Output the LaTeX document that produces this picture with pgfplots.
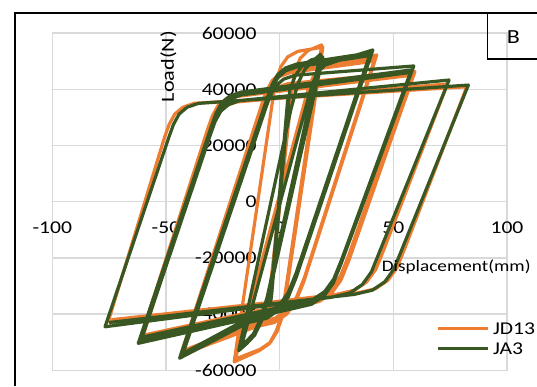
\documentclass[border=0pt]{standalone}
\usepackage{fontspec}
\setmainfont{Carlito}[FakeStretch=1.2]
\usepackage{pgfplots}
\pgfplotsset{compat=1.18}
\definecolor{jd}{RGB}{237,125,49}
\definecolor{ja}{RGB}{56,87,35}
\definecolor{gridgray}{RGB}{217,217,217}
\begin{document}
\begin{tikzpicture}[x=1pt,y=1pt]
\useasboundingbox (0,0) rectangle (537,386);
\fill[white] (0,0) rectangle (537,386);
\begin{axis}[
  at={(52.3pt,15.7pt)}, anchor=south west,
  scale only axis, width=454.7pt, height=337.2pt,
  xmin=-100, xmax=100, ymin=-60000, ymax=60000,
  xtick={-100,-50,0,50,100},
  ytick={-60000,-40000,-20000,0,20000,40000,60000},
  scaled y ticks=false,
  /pgf/number format/1000 sep={},
  /pgf/number format/assume math mode=true,
  grid=major,
  grid style={gridgray, line width=1.3pt},
  axis line style={gridgray, line width=1.3pt},
  major tick length=0pt,
  tick style={draw=none},
  xticklabel style={font=\fontsize{18}{20}\selectfont, anchor=base, inner sep=0pt, yshift=137pt},
  yticklabel style={font=\fontsize{18}{20}\selectfont, anchor=east, inner sep=0pt, xshift=204.4pt},
  xlabel={Displacement(mm)},
  ylabel={Load(N)},
  xlabel style={font=\fontsize{16}{18}\selectfont, at={(rel axis cs:0.8884,0.3072)}, anchor=center, inner sep=0pt},
  ylabel style={font=\fontsize{18.5}{20}\selectfont, at={(rel axis cs:0.2551,0.9004)}, anchor=center, inner sep=0pt},
  legend style={at={(rel axis cs:0.8454,0.1432)}, anchor=north west, draw=none, fill=none,
    inner sep=0pt, outer sep=0pt, font=\fontsize{18}{20}\selectfont, row sep=8.4pt,
    nodes={inner sep=0pt, text height=12pt, text depth=0pt},
    /tikz/every odd column/.append style={column sep=3.3pt}},
  legend cell align=left,
  legend image code/.code={\draw[#1, line width=3pt] (0pt,0pt) -- (50pt,0pt);},
]
\addplot[jd, line width=3.2pt, line join=round, no marks] coordinates {
(0,0) (4,30000) (-4,-30000) (5,37000) (-5,-37000) (5.5,40000) (-5,-40000)
(5,38000) (6.5,46000) (9,51000) (12.5,53800) (18.5,55800)
(1.1,-40000) (-1.5,-46000) (-4.5,-50500) (-9,-53000) (-20,-57000)
(-2,42000) (0.5,48000) (3.5,51500) (8,53500) (19,55000)
(1.5,-40000) (-1,-46000) (-4,-50000) (-8.5,-52500) (-19.5,-56000)
(11.5,37000) (13.1,41500) (15.2,45200) (18.4,47600) (23.4,49000) (42.7,52200)
(10.6,-28500) (7.1,-35500) (3.1,-40000) (-2.4,-43000) (-10.4,-44500) (-43.5,-54500)
(-7.7,35000) (-5.7,39500) (-3.2,43200) (0.3,45600) (5.3,47000) (42,51000)
(10.8,-27500) (7.3,-34500) (3.3,-39000) (-2.2,-42000) (-10.2,-43500) (-43,-53500)
(-8,34000) (-6,38500) (-3.5,42200) (0,44600) (5,46000) (41.5,50000)
(10.9,-27000) (7.4,-34000) (3.4,-38500) (-2.1,-41500) (-10.1,-43000) (-42.5,-53000)
(-9.4,30000) (-7.4,34500) (-4.9,38200) (-1.4,40600) (3.6,42000) (59.5,46300)
(30.4,-21000) (26.9,-28000) (22.9,-32500) (17.4,-35500) (9.4,-37000) (-61.4,-49200)
(-31.6,26000) (-29.6,30500) (-27.1,34200) (-23.6,36600) (-18.6,38000) (58.5,45500)
(30.2,-20000) (26.7,-27000) (22.7,-31500) (17.2,-34500) (9.2,-36000) (-60.5,-48000)
(-31.4,25500) (-29.4,30000) (-26.9,33700) (-23.4,36100) (-18.4,37500) (58,45000)
(30.2,-19500) (26.7,-26500) (22.7,-31000) (17.2,-34000) (9.2,-35500) (-60,-47500)
(-31.9,23500) (-29.9,28000) (-27.4,31700) (-23.9,34100) (-18.9,35500) (73.8,41900)
(45.85,-17000) (42.35,-24000) (38.35,-28500) (32.85,-31500) (24.85,-33000) (-75.4,-42700)
(-50.6,23000) (-48.6,27500) (-46.1,31200) (-42.6,33600) (-37.6,35000) (82.3,40900)
(55.1,-16500) (51.6,-23500) (47.6,-28000) (42.1,-31000) (34.1,-32500) (-74,-42000)
};
\addlegendentry{JD13}
\addplot[ja, line width=3.2pt, line join=round, no marks] coordinates {
(0,0) (3,30000) (-3,-28000) (3.5,35000) (-3.5,-33000) (4,38000) (-4,-36000)
(3.8,37500) (-4.2,-36500) (3.5,36000) (-3.8,-35000)
(4,36000) (4.5,40000) (7,45000) (10,48500) (14,50500) (19,51500)
(-5,-34000) (-8,-42500) (-11,-47500) (-14.5,-50500) (-18,-53000)
(5,33000) (8,42000) (11,47000) (14.5,50000) (18,52500)
(-5.5,-34000) (-8.5,-42000) (-11.5,-47000) (-15,-50000) (-17,-52000)
(13,38000) (14.7,42500) (16.8,46200) (20,48600) (25,50000) (41,54000)
(7.25,-27000) (3.75,-34000) (-0.25,-38500) (-5.75,-41500) (-13.75,-43000) (-44,-55700)
(-5.4,37000) (-3.4,41500) (-0.9,45200) (2.6,47600) (7.6,49000) (40,53000)
(7.1,-26000) (3.6,-33000) (-0.4,-37500) (-5.9,-40500) (-13.9,-42000) (-43,-54500)
(-5.3,36000) (-3.3,40500) (-0.8,44200) (2.7,46600) (7.7,48000) (39.5,52000)
(7.2,-25500) (3.7,-32500) (-0.3,-37000) (-5.8,-40000) (-13.8,-41500) (-42.5,-54000)
(-6.25,33000) (-4.25,37500) (-1.75,41200) (1.75,43600) (6.75,45000) (59,48300)
(27.05,-22000) (23.55,-29000) (19.55,-33500) (14.05,-36500) (6.05,-38000) (-62.2,-50400)
(-29.95,27000) (-27.95,31500) (-25.45,35200) (-21.95,37600) (-16.95,39000) (58,46900)
(27.1,-21000) (23.6,-28000) (19.6,-32500) (14.1,-35500) (6.1,-37000) (-61,-49000)
(-29.75,26000) (-27.75,30500) (-25.25,34200) (-21.75,36600) (-16.75,38000) (57.5,46000)
(27.3,-20500) (23.8,-27500) (19.8,-32000) (14.3,-35000) (6.3,-36500) (-60.5,-48200)
(-30.4,24000) (-28.4,28500) (-25.9,32200) (-22.4,34600) (-17.4,36000) (74.5,43300)
(43.85,-18000) (40.35,-25000) (36.35,-29500) (30.85,-32500) (22.85,-34000) (-76.8,-44500)
(-48.7,23000) (-46.7,27500) (-44.2,31200) (-40.7,33600) (-35.7,35000) (83,41500)
(53.75,-17000) (50.25,-24000) (46.25,-28500) (40.75,-31500) (32.75,-33000) (-75,-43000)
};
\addlegendentry{JA3}
\end{axis}
\draw[black, line width=2pt] (15.4,0) -- (15.4,372.5) -- (537,372.5);
\draw[black, line width=1.3pt] (487.7,372.5) -- (487.7,327) -- (537,327);
\node[font=\fontsize{20}{24}\selectfont] at (513.5,349.3) {B};
\end{tikzpicture}
\end{document}
